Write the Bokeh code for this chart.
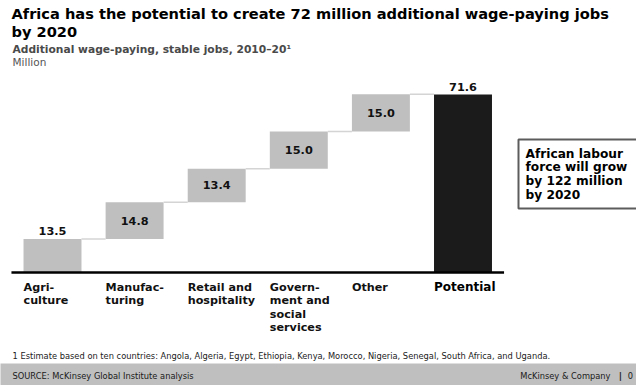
import numpy as np
from bokeh.plotting import figure
from bokeh.models import Range1d, ColumnDataSource
from bokeh.core.properties import value
from bokeh.embed import file_html
from bokeh.resources import INLINE

# ---- data -------------------------------------------------------------
categories = ["Agri-\nculture", "Manufac-\nturing", "Retail and\nhospitality",
              "Govern-\nment and\nsocial\nservices", "Other", "Potential"]
increments = [13.5, 14.8, 13.4, 15.0, 15.0]   # million jobs per sector
potential = 71.6                                # total, million jobs

title_lines = ["Africa has the potential to create 72 million additional wage-paying jobs",
               "by 2020"]
subtitle = "Additional wage-paying, stable jobs, 2010\u201320\u00b9"
unit_label = "Million"
callout = "African labour\nforce will grow\nby 122 million\nby 2020"
footnote = "1  Estimate based on ten countries: Angola, Algeria, Egypt, Ethiopia, Kenya, Morocco, Nigeria, Senegal, South Africa, and Uganda."
source_note = "SOURCE: McKinsey Global Institute analysis"
brand_note = "McKinsey & Company"
page_no = "0"

# ---- layout (pixels) --------------------------------------------------
W, H = 636, 385
STEP_PX = 82.1        # distance between category centres
FIRST_PX = 52.0       # centre of first bar
UNIT_PX = 2.486       # pixels per million
BASE_PX = 272.0       # baseline, from top
BAR_W = 0.706

def sx(px):
    return (px - FIRST_PX) / STEP_PX

def sy(py):
    return (BASE_PX - py) / UNIT_PX

FONT = value("DejaVu Sans")

p = figure(width=W, height=H, output_backend="svg", toolbar_location=None,
           x_range=Range1d(sx(0), sx(W)), y_range=Range1d(sy(H), sy(0)),
           min_border=0)
p.axis.visible = False
p.grid.visible = False
p.outline_line_color = None
p.background_fill_color = "white"
p.border_fill_color = "white"

# ---- waterfall --------------------------------------------------------
n = len(increments)
idx = np.arange(n)
tops = np.cumsum(increments)
bottoms = tops - np.array(increments)

steps = ColumnDataSource(dict(x=idx, bottom=bottoms, top=tops,
                              mid=(bottoms + tops) / 2,
                              label=[f"{v:.1f}" for v in increments]))
p.vbar(x="x", bottom="bottom", top="top", width=BAR_W, source=steps,
       fill_color="#bfbfbf", line_color=None)
p.vbar(x=[n], bottom=[0], top=[potential], width=BAR_W,
       fill_color="#1b1b1b", line_color=None)

# connectors between consecutive bars
p.segment(x0=idx + BAR_W / 2, x1=idx + 1 - BAR_W / 2, y0=tops, y1=tops,
          line_color="#d4d4d4", line_width=1.5)

# baseline
p.segment(x0=[-0.5], x1=[n + 0.5], y0=[0], y1=[0],
          line_color="black", line_width=2.5)

# value labels: first and total above their bars, others inside
inner = ColumnDataSource(dict(x=idx[1:], y=steps.data["mid"][1:],
                              t=steps.data["label"][1:]))
p.text(x="x", y="y", text="t", source=inner, text_font=FONT,
       text_font_style="bold", text_font_size=value("11.3px"),
       text_color="#111111", text_align="center", text_baseline="middle")
p.text(x=[0, n], y=[tops[0], potential],
       text=[f"{increments[0]:.1f}", f"{potential:.1f}"], text_font=FONT,
       text_font_style="bold", text_font_size=value("11.3px"),
       text_color="#111111", text_align="center", text_baseline="middle",
       y_offset=-8)

# category labels, left-aligned under each bar
cat_x = np.arange(len(categories)) - BAR_W / 2
p.text(x=cat_x[:-1], y=[sy(280)] * (len(categories) - 1), text=categories[:-1],
       text_font=FONT, text_font_style="bold", text_font_size=value("11.2px"),
       text_color="#111111", text_align="left", text_baseline="top",
       text_line_height=1.05)
p.text(x=[cat_x[-1]], y=[sy(279)], text=[categories[-1]],
       text_font=FONT, text_font_style="bold", text_font_size=value("12px"),
       text_color="#000000", text_align="left", text_baseline="top")

# ---- callout box (open on the right, runs off the page) ---------------
bl, br, bt, bb = sx(518), sx(720), sy(139), sy(208)
p.quad(left=[bl], right=[br], top=[bt], bottom=[bb],
       fill_color="white", line_color=None)
p.line(x=[br, bl, bl, br], y=[bt, bt, bb, bb],
       line_color="#5c5c5c", line_width=2)
p.text(x=[sx(525)], y=[sy(146)], text=[callout], text_font=FONT,
       text_font_style="bold", text_font_size=value("12.2px"),
       text_color="#000000", text_align="left", text_baseline="top",
       text_line_height=0.99)

# ---- titles -----------------------------------------------------------
p.text(x=[sx(11)] * 2, y=[sy(13), sy(31)], text=title_lines, text_font=FONT,
       text_font_style="bold", text_font_size=value("14.6px"),
       text_color="#000000", text_align="left", text_baseline="middle")
p.text(x=[sx(12)], y=[sy(49)], text=[subtitle], text_font=FONT,
       text_font_style="bold", text_font_size=value("10.7px"),
       text_color="#4a4a4a", text_align="left", text_baseline="middle")
p.text(x=[sx(12)], y=[sy(61)], text=[unit_label], text_font=FONT,
       text_font_size=value("10.5px"),
       text_color="#555555", text_align="left", text_baseline="middle")

# ---- footnote and footer band -----------------------------------------
p.text(x=[sx(12)], y=[sy(355)], text=[footnote], text_font=FONT,
       text_font_size=value("8.3px"), text_color="#222222",
       text_align="left", text_baseline="middle")
p.quad(left=[sx(-5)], right=[sx(W + 5)], top=[sy(363)], bottom=[sy(H + 5)],
       fill_color="#bfbfbf", line_color=None)
p.text(x=[sx(12)], y=[sy(375)], text=[source_note], text_font=FONT,
       text_font_size=value("8.3px"), text_color="#1a1a1a",
       text_align="left", text_baseline="middle")
p.text(x=[sx(610)], y=[sy(375)], text=[brand_note], text_font=FONT,
       text_font_size=value("8.3px"), text_color="#1a1a1a",
       text_align="right", text_baseline="middle")
p.text(x=[sx(620)], y=[sy(375)], text=["|"], text_font=FONT,
       text_font_style="bold", text_font_size=value("9px"), text_color="#1a1a1a",
       text_align="center", text_baseline="middle")
p.text(x=[sx(630)], y=[sy(375)], text=[page_no], text_font=FONT,
       text_font_size=value("8.3px"), text_color="#1a1a1a",
       text_align="center", text_baseline="middle")

open("out.html", "w").write(file_html(p, INLINE))
